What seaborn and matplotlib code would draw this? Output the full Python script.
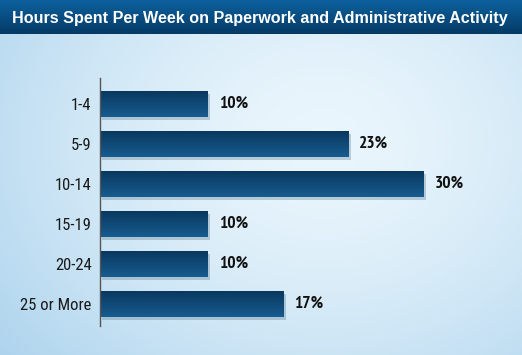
import numpy as np
import pandas as pd
import matplotlib
matplotlib.use("Agg")
import matplotlib.pyplot as plt
import seaborn as sns

categories = ["1-4", "5-9", "10-14", "15-19", "20-24", "25 or More"]
values = [10, 23, 30, 10, 10, 17]
labels = ["10%", "23%", "30%", "10%", "10%", "17%"]
title = "Hours Spent Per Week on Paperwork and Administrative Activity"

sns.set_theme(style="white")
narrow = ["Roboto Condensed", "PT Sans Narrow", "DejaVu Sans"]
narrow_b = ["PT Sans Narrow", "Roboto Condensed", "DejaVu Sans"]
plt.rcParams["font.family"] = ["Liberation Sans", "DejaVu Sans"]

W, H = 522, 355
fig = plt.figure(figsize=(W / 100, H / 100), dpi=100)

# background gradient
bg = fig.add_axes([0, 0, 1, 1])
yy, xx = np.mgrid[0:1:355j, 0:1:522j]
d = np.sqrt(((xx - 0.62) / 0.8) ** 2 + ((yy - 0.40) / 0.95) ** 2)
d = np.clip(d, 0, 1)
light = np.array([0.92, 0.965, 0.99])
dark = np.array([0.68, 0.83, 0.93])
w = d[..., None] ** 1.5
img = light[None, None, :] * (1 - w) + dark[None, None, :] * w
bg.imshow(img, extent=[0, 1, 0, 1], aspect="auto", origin="upper")
# title band
ty = np.linspace(0, 1, 50)[:, None]
top_c = np.array([0.05, 0.38, 0.62])
bot_c = np.array([0.02, 0.23, 0.40])
band = top_c[None, None, :] * (1 - ty[..., None]) + bot_c[None, None, :] * ty[..., None]
band = np.repeat(band, 10, axis=1)
bg.imshow(band, extent=[0, 1, 1 - 34 / H, 1], aspect="auto")
bg.set_xlim(0, 1)
bg.set_ylim(0, 1)
bg.axis("off")
fig.text(12 / W, 1 - 18 / H, title, color="white", fontsize=11.6, fontweight="bold",
         va="center", ha="left", family=["Liberation Sans", "DejaVu Sans"])

ax = fig.add_axes([100 / W, 1 - 326 / H, 378 / W, 248 / H])
ax.patch.set_alpha(0)
df = pd.DataFrame({"cat": categories, "val": values})
sns.barplot(data=df, x="val", y="cat", orient="h", color="#124b75", width=0.65,
            saturation=1, ax=ax, edgecolor="none")
grad = np.linspace(0, 1, 64)[:, None]
c1 = np.array([0.04, 0.22, 0.37])
c2 = np.array([0.09, 0.36, 0.56])
gimg = c1[None, None, :] * (1 - grad[..., None]) + c2[None, None, :] * grad[..., None]
bars = list(ax.patches)
for p in bars:
    x0, y0, wd, ht = p.get_x(), p.get_y(), p.get_width(), p.get_height()
    sh = plt.Rectangle((x0 + 0.2, y0 + 0.07), wd, ht, color="#5f7f96", alpha=0.35,
                       zorder=p.get_zorder() - 0.1, lw=0)
    ax.add_patch(sh)
    im = ax.imshow(gimg, extent=[x0, x0 + wd, y0 + ht, y0], aspect="auto",
                   origin="upper", zorder=p.get_zorder() + 0.1)
    im.set_clip_path(p)
for i, (v, lab) in enumerate(zip(values, labels)):
    ax.text(v + 1.0, i, lab, va="center", ha="left", fontsize=12.5, fontweight="bold",
            color="#111111", family=narrow_b)
ax.set_xlim(0, 35)
ax.set_ylim(5.55, -0.65)
ax.set_xlabel("")
ax.set_ylabel("")
ax.set_xticks([])
for s in ["top", "right", "bottom"]:
    ax.spines[s].set_visible(False)
ax.spines["left"].set_color("#555555")
ax.spines["left"].set_linewidth(1)
ax.tick_params(axis="y", length=0, pad=6)
for t in ax.get_yticklabels():
    t.set_fontsize(12)
    t.set_family(narrow)
    t.set_color("#1a1a1a")

fig.savefig("out.png", dpi=100)
